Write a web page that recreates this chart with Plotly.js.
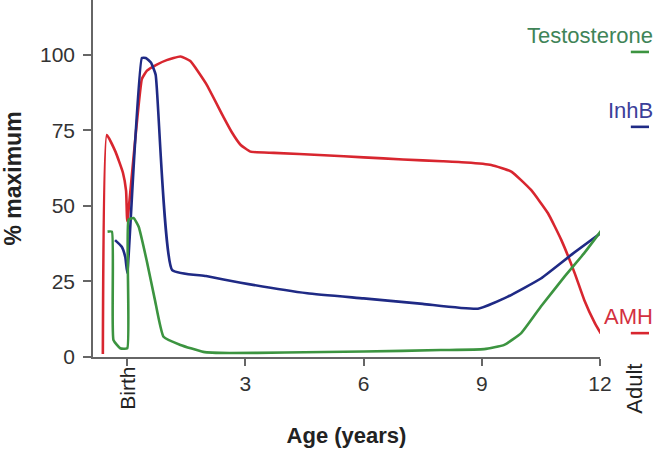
<!DOCTYPE html>
<html>
<head>
<meta charset="utf-8">
<script src="https://cdn.plot.ly/plotly-3.0.1.min.js"></script>
<style>
  body { margin: 0; background: #fff; }
  #chart { width: 658px; height: 449px; }
</style>
</head>
<body>
<div id="chart"></div>
<script>
// age in years (0 = birth), hormone level as % of maximum
var amhAge = [-0.62, -0.52, -0.3, -0.11, -0.03, 0, 0.37, 0.5, 0.75, 1.0, 1.35, 1.6, 2.0, 2.44, 2.65, 2.88, 3.13, 3.72, 5, 6, 7, 8, 8.6, 9.24, 9.75, 10.25, 10.68, 11.02, 11.36, 11.6, 11.87, 12.02];
var amhVal = [1, 73.5, 68, 61, 55, 45, 92, 94.8, 96.8, 98.3, 99.5, 98, 90.5, 79.5, 74.5, 70.2, 68, 67.6, 66.8, 66.1, 65.4, 64.8, 64.4, 63.6, 61.4, 55.3, 47.6, 38.7, 27.7, 18.9, 11.2, 7.8];

var inhbAge = [-0.31, -0.14, -0.05, 0, 0.37, 0.47, 0.6, 0.72, 1.14, 2, 2.88, 4.57, 6, 7.5, 8.9, 9.66, 10.5, 11.27, 12.04];
var inhbVal = [38.7, 36.5, 33, 27.8, 99, 99, 97.5, 93.5, 28.8, 26.8, 24.6, 21.1, 19.4, 17.6, 16.0, 20, 26, 33.8, 41.2];

var testoAge = [-0.5, -0.39, -0.35, -0.18, 0, 0.03, 0.16, 0.29, 0.5, 0.7, 0.92, 1.35, 1.93, 2.6, 4, 6, 7.96, 9.06, 9.57, 10, 10.5, 11.1, 11.6, 12.04];
var testoVal = [41.5, 41.5, 5.6, 2.9, 2.9, 45.4, 46, 43.1, 31.5, 19, 6.7, 4, 1.7, 1.3, 1.5, 1.8, 2.3, 2.6, 4, 7.9, 16.7, 26.6, 34.4, 42];

var hormones = ["Testosterone", "InhB", "AMH"];
var adultVal = [101, 76.2, 7.9];

var tickVals = [0, 3, 6, 9, 12];
var tickText = ["", "3", "6", "9", "12"];
var yTicks = [0, 25, 50, 75, 100];

var red = "#d8262f", blue = "#1f2a85", green = "#3c9440";
var labelColors = ["#3f8458", "#3b409a", "#d3303f"];
var lineColors = [green, blue, red];
var FONT = "Liberation Sans, Arial, sans-serif";

var traces = [
  {x: amhAge, y: amhVal, mode: "lines", line: {color: red, width: 2.6, shape: "spline", smoothing: 0.4}},
  {x: inhbAge, y: inhbVal, mode: "lines", line: {color: blue, width: 2.6, shape: "spline", smoothing: 0.4}},
  {x: testoAge, y: testoVal, mode: "lines", line: {color: green, width: 2.6, shape: "spline", smoothing: 0.4}}
];

// short dashes for adult levels, drawn on a small strip axis right of the plot
hormones.forEach(function (h, i) {
  traces.push({x: [0.68], y: [adultVal[i]], xaxis: "x2", yaxis: "y", mode: "markers", cliponaxis: false,
    marker: {symbol: "line-ew", size: 13, line: {color: lineColors[i], width: 2.6}}});
});

var annotations = hormones.map(function (h, i) {
  return {text: h, x: 0.68, y: adultVal[i], xref: "x2", yref: "y", showarrow: false,
    xanchor: "right", yanchor: "bottom", xshift: 15, yshift: 2,
    font: {family: FONT, size: 22, color: labelColors[i]}};
});
annotations.push({text: "Birth", x: 0, y: 0, xref: "x", yref: "paper", showarrow: false,
  textangle: -90, yanchor: "top", yshift: -8, font: {family: FONT, size: 21, color: "#222"}});
annotations.push({text: "Adult", x: 0.57, y: 0, xref: "x2", yref: "paper", showarrow: false,
  textangle: -90, yanchor: "top", yshift: -5, font: {family: FONT, size: 22, color: "#222"}});

var layout = {
  width: 658, height: 449,
  margin: {l: 93, r: 0, t: 0, b: 92},
  showlegend: false,
  paper_bgcolor: "#fff", plot_bgcolor: "#fff",
  font: {family: FONT, size: 21, color: "#333"},
  xaxis: {
    domain: [0, 0.8973], range: [-0.87, 12], tickvals: tickVals, ticktext: tickText,
    showgrid: false, zeroline: false, showline: true, linecolor: "#666", linewidth: 1.5,
    ticks: "outside", ticklen: 7, tickwidth: 1.5, tickcolor: "#666",
    tickfont: {family: FONT, size: 21, color: "#333"},
    title: {text: "Age (years)", standoff: 34, font: {family: FONT, size: 22, color: "#222", weight: "bold"}}
  },
  xaxis2: {domain: [0.9, 1], range: [0, 1], anchor: "y", visible: false},
  yaxis: {
    range: [0, 118.2], tickvals: yTicks,
    showgrid: false, zeroline: false, showline: true, linecolor: "#666", linewidth: 1.5,
    ticks: "outside", ticklen: 8, tickwidth: 1.5, tickcolor: "#666", ticklabelstandoff: 4,
    tickfont: {family: FONT, size: 21, color: "#333"},
    title: {text: "% maximum", standoff: 12, font: {family: FONT, size: 23, color: "#222", weight: "bold"}}
  },
  annotations: annotations
};

Plotly.newPlot("chart", traces, layout, {displayModeBar: false});
</script>
</body>
</html>
